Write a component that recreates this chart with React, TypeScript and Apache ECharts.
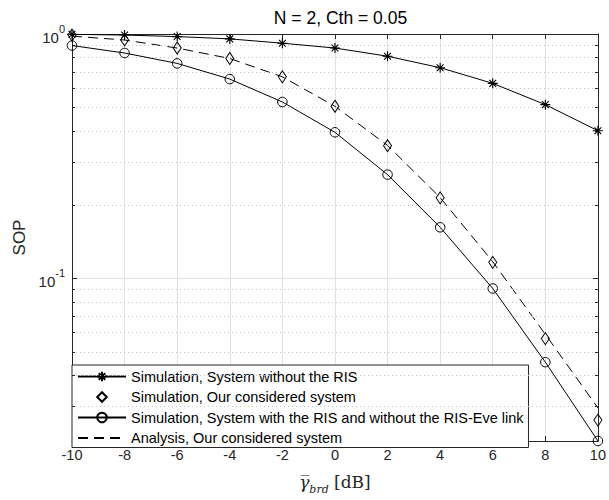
import React, { useEffect, useRef } from "react";
import * as echarts from "echarts";

const xValues = [-10, -8, -6, -4, -2, 0, 2, 4, 6, 8, 10];
const simNoRIS = [0.997, 0.99, 0.976, 0.955, 0.917, 0.876, 0.811, 0.728, 0.628, 0.514, 0.402];
const simOurs = [0.99, 0.946, 0.876, 0.794, 0.668, 0.506, 0.349, 0.2135, 0.1163, 0.0567, 0.0263];
const simRISnoEve = [0.897, 0.836, 0.758, 0.654, 0.527, 0.396, 0.2658, 0.1618, 0.0909, 0.0454, 0.0216];
const anaOurs = [0.98, 0.945, 0.876, 0.794, 0.668, 0.506, 0.35, 0.214, 0.117, 0.059, 0.0295];
const minorValues = [0.03, 0.04, 0.05, 0.06, 0.07, 0.08, 0.09, 0.2, 0.3, 0.4, 0.5, 0.6, 0.7, 0.8, 0.9];
const seriesNames = [
  "Simulation, System without the RIS",
  "Simulation, Our considered system",
  "Simulation, System with the RIS and without the RIS-Eve link",
  "Analysis, Our considered system",
];
const xMin = -10;
const xMax = 10;
const xStep = 2;
const yMin = 0.0216;
const yMax = 1;
const titleText = "N = 2, Cth = 0.05";

const AX = "#262626";
const FONT = "Liberation Sans";

const starPath = "path://M5,0L5,10M0,5L10,5M1.6,1.6L8.4,8.4M1.6,8.4L8.4,1.6";
const diamondPath = "path://M4,0L8,6L4,12L0,6Z";

function pairs(ys: number[]) {
  return xValues.map((x, i) => [x, ys[i]]);
}

export default function App() {
  const ref = useRef<HTMLDivElement>(null);
  useEffect(() => {
    if (!ref.current) return;
    const chart = echarts.init(ref.current, undefined, { renderer: "svg" });
    const tickLen = (xMax - xMin) * 0.0057;
    const minorTickLines: any[] = [];
    minorValues.forEach((v) => {
      minorTickLines.push([{ coord: [xMin, v] }, { coord: [xMin + tickLen, v] }]);
      minorTickLines.push([{ coord: [xMax - tickLen, v] }, { coord: [xMax, v] }]);
    });
    const option: any = {
      animation: false,
      backgroundColor: "#fff",
      title: {
        text: titleText,
        left: 335.5,
        textAlign: "center",
        top: 4,
        textStyle: { fontFamily: FONT, fontSize: 17.5, fontWeight: "normal", color: "#000" },
      },
      grid: { left: 72, right: 10, top: 34, bottom: 52, containLabel: false },
      legend: {
        data: seriesNames,
        orient: "vertical",
        left: 72,
        top: 365,
        itemWidth: 48,
        itemHeight: 12,
        itemGap: 5.5,
        padding: [4, 5, 2, 5],
        backgroundColor: "#fff",
        borderColor: AX,
        borderWidth: 1,
        borderRadius: 0,
        textStyle: { fontFamily: FONT, fontSize: 14.5, color: "#000" },
      },
      xAxis: [
        {
          type: "value",
          min: xMin,
          max: xMax,
          interval: xStep,
          position: "bottom",
          axisLine: { show: true, onZero: false, lineStyle: { color: AX, width: 1 } },
          axisTick: { show: true, inside: true, length: 5, lineStyle: { color: AX } },
          axisLabel: { fontFamily: FONT, fontSize: 14.5, color: AX, margin: 6 },
          splitLine: { show: true, lineStyle: { color: "#e1e1e1", width: 1 } },
          name: "{g|γ\u0305}{s|brd}{n| [dB]}",
          nameLocation: "middle",
          nameGap: 32,
          nameTextStyle: {
            rich: {
              g: { fontFamily: "DejaVu Serif", fontStyle: "italic", fontSize: 17, color: AX, lineHeight: 22, verticalAlign: "top" },
              s: { fontFamily: "DejaVu Serif", fontStyle: "italic", fontSize: 11, color: AX, lineHeight: 12, verticalAlign: "bottom" },
              n: { fontFamily: "DejaVu Serif", fontSize: 17, color: AX, lineHeight: 22, verticalAlign: "top" },
            },
          },
        },
        {
          type: "value",
          min: xMin,
          max: xMax,
          interval: xStep,
          position: "top",
          axisLine: { show: true, onZero: false, lineStyle: { color: AX, width: 1 } },
          axisTick: { show: true, inside: true, length: 5, lineStyle: { color: AX } },
          axisLabel: { show: false },
          splitLine: { show: false },
        },
      ],
      yAxis: [
        {
          type: "log",
          logBase: 10,
          min: yMin,
          max: yMax,
          position: "left",
          axisLine: { show: true, onZero: false, lineStyle: { color: AX, width: 1 } },
          axisTick: { show: true, inside: true, length: 5, lineStyle: { color: AX } },
          splitLine: { show: true, lineStyle: { color: "#e1e1e1", width: 1 } },
          axisLabel: {
            margin: 7,
            formatter: (v: number) => {
              const e = Math.log10(v);
              if (Math.abs(e - Math.round(e)) > 1e-6) return "";
              return "{b|10}{s|" + Math.round(e) + "}";
            },
            rich: {
              b: { fontFamily: FONT, fontSize: 15, color: AX, lineHeight: 21, verticalAlign: "bottom" },
              s: { fontFamily: FONT, fontSize: 11, color: AX, lineHeight: 11, verticalAlign: "top" },
            },
          },
          name: "SOP",
          nameLocation: "middle",
          nameRotate: 90,
          nameGap: 44,
          nameTextStyle: { fontFamily: FONT, fontSize: 17, color: AX },
        },
        {
          type: "log",
          logBase: 10,
          min: yMin,
          max: yMax,
          position: "right",
          axisLine: { show: true, onZero: false, lineStyle: { color: AX, width: 1 } },
          axisTick: { show: true, inside: true, length: 5, lineStyle: { color: AX } },
          splitLine: { show: false },
          axisLabel: { show: false },
        },
      ],
      series: [
        {
          name: "grid-minor",
          type: "line",
          data: [],
          z: 1,
          silent: true,
          markLine: {
            silent: true,
            symbol: "none",
            label: { show: false },
            animation: false,
            lineStyle: { color: "#c4c4c4", type: [1, 3], width: 1 },
            data: minorValues.map((v) => ({ yAxis: v })),
          },
        },
        {
          name: "minor-ticks",
          type: "line",
          data: [],
          z: 3,
          silent: true,
          markLine: {
            silent: true,
            symbol: "none",
            label: { show: false },
            animation: false,
            lineStyle: { color: AX, type: "solid", width: 1 },
            data: minorTickLines,
          },
        },
        {
          name: seriesNames[0],
          type: "line",
          data: pairs(simNoRIS),
          symbol: starPath,
          symbolSize: 10,
          showAllSymbol: true,
          lineStyle: { color: "#000", width: 1 },
          itemStyle: { color: "transparent", borderColor: "#000", borderWidth: 1.1 },
          z: 5,
        },
        {
          name: seriesNames[1],
          type: "line",
          data: pairs(simOurs),
          symbol: diamondPath,
          symbolSize: [8, 12],
          showAllSymbol: true,
          lineStyle: { color: "#000", width: 0, opacity: 0 },
          itemStyle: { color: "transparent", borderColor: "#000", borderWidth: 1 },
          z: 5,
        },
        {
          name: seriesNames[2],
          type: "line",
          data: pairs(simRISnoEve),
          symbol: "circle",
          symbolSize: 9.5,
          showAllSymbol: true,
          lineStyle: { color: "#000", width: 1 },
          itemStyle: { color: "transparent", borderColor: "#000", borderWidth: 1 },
          z: 5,
        },
        {
          name: seriesNames[3],
          type: "line",
          data: pairs(anaOurs),
          symbol: "circle",
          symbolSize: 0,
          showSymbol: false,
          lineStyle: { color: "#000", width: 1, type: [10, 6] },
          itemStyle: { color: "transparent", borderColor: "transparent", borderWidth: 0 },
          z: 4,
        },
      ],
    };
    chart.setOption(option);
    return () => chart.dispose();
  }, []);
  return <div ref={ref} style={{ width: 609, height: 500, position: "absolute", left: 0, top: 0 }} />;
}
